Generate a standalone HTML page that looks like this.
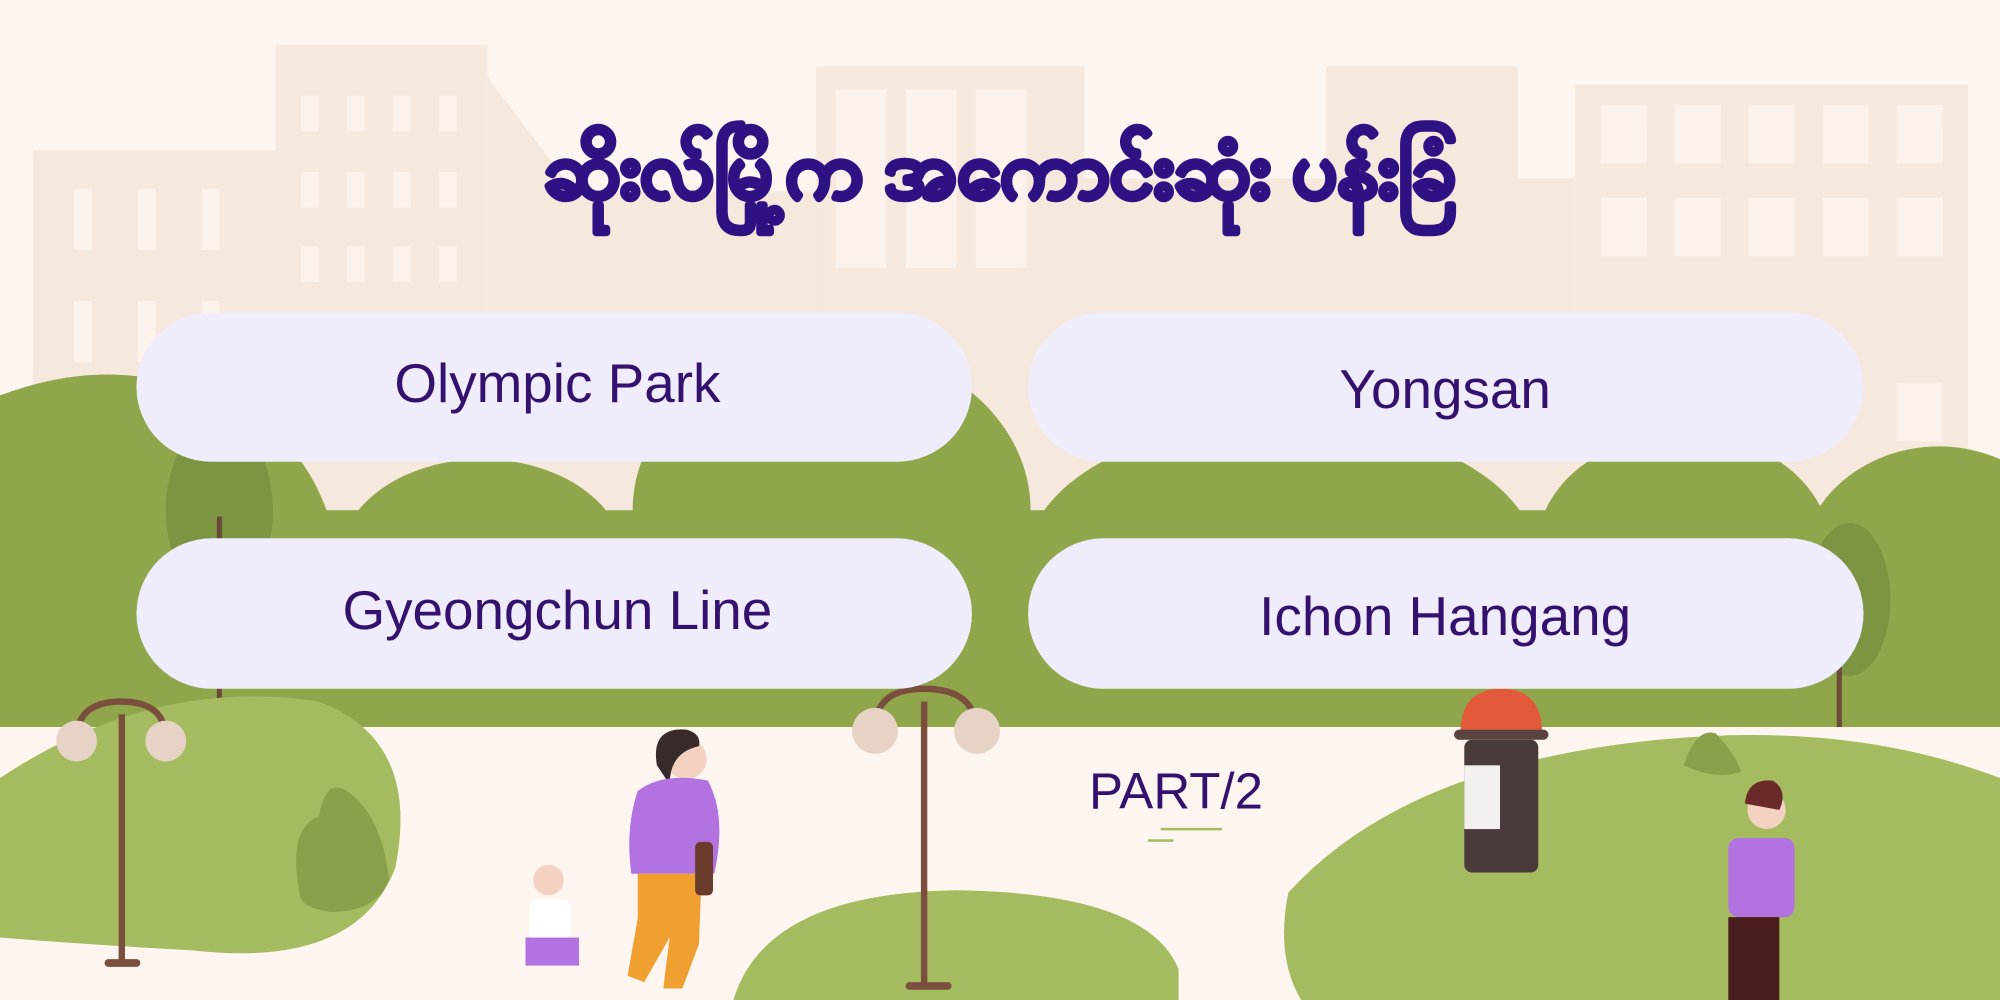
<!DOCTYPE html>
<html><head><meta charset="utf-8"><style>html,body{margin:0;padding:0;background:#fdf5ef;overflow:hidden}svg{display:block}</style></head>
<body>
<svg width="2000" height="1000" viewBox="0 0 1568 784" xmlns="http://www.w3.org/2000/svg">
<rect width="1568" height="784" fill="#fdf5ef"/>
<g fill="#f6e8dd">
<rect x="26" y="118" width="190" height="300"/>
<rect x="216" y="35" width="166" height="380"/>
<path d="M382 60 L450 150 L450 415 L382 415Z"/>
<rect x="450" y="150" width="190" height="270"/>
<rect x="640" y="52" width="210" height="370"/>
<rect x="850" y="140" width="190" height="280"/>
<rect x="1040" y="52" width="150" height="370"/>
<rect x="1190" y="140" width="45" height="280"/>
<rect x="1235" y="66" width="308" height="360"/>
</g>
<g fill="#fdf5ef" opacity="0.8">
<rect x="58" y="148" width="14" height="48"/><rect x="108" y="148" width="14" height="48"/><rect x="158" y="148" width="14" height="48"/>
<rect x="58" y="236" width="14" height="48"/><rect x="108" y="236" width="14" height="48"/><rect x="158" y="236" width="14" height="48"/>
<rect x="236" y="75" width="14" height="28"/><rect x="272" y="75" width="14" height="28"/><rect x="308" y="75" width="14" height="28"/><rect x="344" y="75" width="14" height="28"/>
<rect x="236" y="135" width="14" height="28"/><rect x="272" y="135" width="14" height="28"/><rect x="308" y="135" width="14" height="28"/><rect x="344" y="135" width="14" height="28"/>
<rect x="236" y="193" width="14" height="28"/><rect x="272" y="193" width="14" height="28"/><rect x="308" y="193" width="14" height="28"/><rect x="344" y="193" width="14" height="28"/>
<rect x="655" y="70" width="40" height="140"/><rect x="710" y="70" width="40" height="140"/><rect x="765" y="70" width="40" height="140"/>
<rect x="1255" y="82" width="36" height="46"/><rect x="1313" y="82" width="36" height="46"/><rect x="1371" y="82" width="36" height="46"/><rect x="1429" y="82" width="36" height="46"/><rect x="1487" y="82" width="36" height="46"/>
<rect x="1255" y="155" width="36" height="46"/><rect x="1313" y="155" width="36" height="46"/><rect x="1371" y="155" width="36" height="46"/><rect x="1429" y="155" width="36" height="46"/><rect x="1487" y="155" width="36" height="46"/>
<rect x="1487" y="300" width="36" height="46"/>
</g>
<g fill="#8fa64b">
<path d="M0 310 Q80 280 150 305 Q240 330 262 420 L262 570 L0 570Z"/>
<ellipse cx="378" cy="440" rx="112" ry="80"/>
<ellipse cx="652" cy="400" rx="156" ry="130"/>
<ellipse cx="1005" cy="440" rx="200" ry="110"/>
<ellipse cx="1320" cy="430" rx="115" ry="90"/>
<ellipse cx="1520" cy="450" rx="110" ry="100"/>
<rect x="0" y="400" width="1568" height="170"/>
</g>
<ellipse cx="172" cy="400" rx="42" ry="70" fill="#7d9443"/>
<ellipse cx="1450" cy="470" rx="32" ry="60" fill="#7d9443"/>
<rect x="170" y="405" width="4" height="150" fill="#6b4a3a"/>
<rect x="1440" y="470" width="4" height="120" fill="#6b4a3a"/>
<rect x="0" y="570" width="1568" height="214" fill="#fdf5ef"/>
<g fill="#a5bb5f">
<path d="M0 610 Q120 530 250 550 Q330 580 310 680 Q280 760 150 745 Q60 740 0 735Z"/>
<path d="M575 784 Q600 700 750 698 Q900 700 924 760 L924 784Z"/>
<path d="M1010 700 Q1100 600 1300 580 Q1450 565 1568 610 L1568 784 L1020 784 Q1000 750 1010 700Z"/>
</g>
<path d="M235 700 Q225 650 250 640 Q255 610 272 620 Q300 640 305 690 Q295 715 260 715 Q235 712 235 700Z" fill="#8aa04a"/>
<path d="M1320 600 Q1330 570 1345 575 Q1360 590 1365 605 Q1345 612 1320 600Z" fill="#8aa04a"/>
<g fill="#7b4f3d">
<rect x="93" y="560" width="5" height="195"/><rect x="82" y="752" width="28" height="6" rx="3"/>
<path d="M60 580 Q60 550 95 550 Q130 550 130 580" fill="none" stroke="#7b4f3d" stroke-width="5"/>
<rect x="722" y="550" width="5" height="225"/><rect x="710" y="770" width="36" height="6" rx="3"/>
<path d="M686 572 Q686 540 724 540 Q765 540 765 572" fill="none" stroke="#7b4f3d" stroke-width="5"/>
</g>
<g fill="#e6d3c5"><circle cx="60" cy="581" r="16"/><circle cx="130" cy="581" r="16"/><circle cx="686" cy="573" r="18"/><circle cx="766" cy="573" r="18"/></g>
<path d="M1145 575 Q1145 540 1177 540 Q1209 540 1209 575Z" fill="#e25a3a"/>
<rect x="1140" y="572" width="74" height="8" rx="4" fill="#5a4440"/>
<rect x="1148" y="580" width="58" height="104" rx="6" fill="#4a3a3a"/>
<rect x="1148" y="600" width="28" height="50" fill="#f4f0ee"/>
<circle cx="538" cy="595" r="16" fill="#f3d2c2"/><path d="M515 600 Q510 570 538 572 Q550 575 548 585 Q525 590 525 615Z" fill="#3a2b2b"/>
<path d="M500 620 Q520 605 555 612 Q570 640 560 685 L495 685 Q490 650 500 620Z" fill="#b273e0"/>
<path d="M500 685 L550 685 L548 740 L535 775 L520 775 L525 735 L505 770 L492 765 L500 720Z" fill="#f0a030"/>
<rect x="545" y="660" width="14" height="42" rx="4" fill="#6a3a2a"/>
<circle cx="430" cy="690" r="12" fill="#f3d2c2"/><rect x="415" y="705" width="32" height="32" rx="6" fill="#fff"/>
<rect x="412" y="735" width="42" height="22" fill="#b273e0"/>
<circle cx="1385" cy="635" r="15" fill="#f3d2c2"/><path d="M1368 630 Q1370 610 1390 612 Q1402 620 1395 635Z" fill="#6a2a2a"/>
<rect x="1355" y="657" width="52" height="62" rx="8" fill="#b273e0"/>
<rect x="1355" y="719" width="40" height="65" fill="#4a1e1e"/>
<text x="784" y="155" text-anchor="middle" font-family="'Liberation Sans', sans-serif" font-weight="bold" font-size="62" fill="#2e1183" stroke="#2e1183" stroke-width="4" stroke-linejoin="round">ဆိုးလ်မြို့က အကောင်းဆုံး ပန်းခြံ</text>
<g fill="#efecfb">
<rect x="107" y="245" width="655" height="117" rx="58.5"/>
<rect x="806" y="245" width="655" height="117" rx="58.5"/>
<rect x="107" y="422" width="655" height="118" rx="59"/>
<rect x="806" y="422" width="655" height="118" rx="59"/>
</g>
<g font-family="'Liberation Sans', sans-serif" font-size="43" fill="#34116e" text-anchor="middle">
<text x="437" y="315">Olympic Park</text>
<text x="1133" y="320">Yongsan</text>
<text x="437" y="493">Gyeongchun Line</text>
<text x="1133" y="498">Ichon Hangang</text>
<text x="922" y="634" font-size="40">PART/2</text>
</g>
<rect x="910" y="649" width="48" height="2" fill="#a5bb5f"/><rect x="900" y="658" width="20" height="2" fill="#a5bb5f"/>
</svg>
</body></html>
